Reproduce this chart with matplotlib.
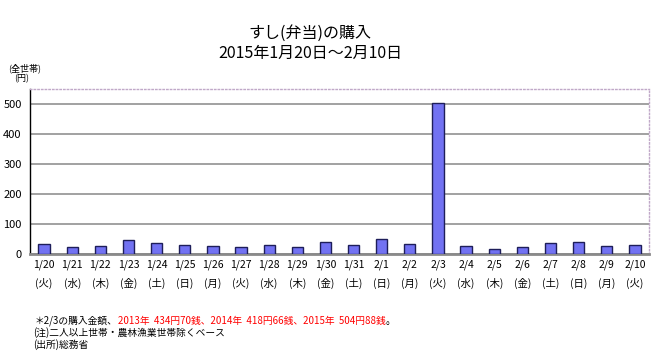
'''すし(弁当)の購入 bar chart.'''
import matplotlib
matplotlib.use('Agg')
import matplotlib.pyplot as plt

plt.rcParams['font.family'] = ['Noto Sans CJK JP', 'DejaVu Sans']

dates = ['1/20', '1/21', '1/22', '1/23', '1/24', '1/25', '1/26', '1/27', '1/28',
         '1/29', '1/30', '1/31', '2/1', '2/2', '2/3', '2/4', '2/5', '2/6', '2/7',
         '2/8', '2/9', '2/10']
weekdays = ['火', '水', '木', '金', '土', '日', '月', '火', '水', '木', '金',
            '土', '日', '月', '火', '水', '木', '金', '土', '日', '月', '火']
amounts = [32, 22, 27, 46, 36, 29, 27, 22, 29, 24, 39, 29, 49, 32, 505,
           27, 16, 22, 36, 39, 27, 31]
yticks = [0, 100, 200, 300, 400, 500]

fig = plt.figure(figsize=(6.64, 3.58), dpi=100)
ax = fig.add_axes([30 / 664, 1 - 254 / 358, 619 / 664, 165 / 358])

x = list(range(len(dates)))
ax.bar(x, amounts, width=0.4, color='#7272F2', edgecolor='#1E1E5A',
       linewidth=1.0, zorder=3)

ax.set_xlim(-0.5, len(dates) - 0.5)
ax.set_ylim(0, 550)
ax.set_yticks(yticks)
ax.set_yticklabels([str(v) for v in yticks], fontsize=8)
ax.set_xticks([])
ax.tick_params(axis='y', length=0, pad=6)
ax.yaxis.grid(True, color='#9A9A9A', linewidth=1.3, zorder=0)

ax.spines['left'].set_color('black')
ax.spines['left'].set_linewidth(1.0)
ax.spines['bottom'].set_color('#8A8A8A')
ax.spines['bottom'].set_linewidth(2.0)
for side in ['top', 'right']:
    ax.spines[side].set_color('#C0A8C8')
    ax.spines[side].set_linestyle(':')
    ax.spines[side].set_linewidth(1.0)

# date and weekday labels under each bar
for i, (d, w) in enumerate(zip(dates, weekdays)):
    ax.text(i, -37, d, ha='center', va='center', fontsize=7.5)
    ax.text(i, -97, '(' + w + ')', ha='center', va='center', fontsize=7.5)

fig.text(310 / 664, 1 - 33 / 358, 'すし(弁当)の購入', ha='center', va='center',
         fontsize=11.5)
fig.text(310 / 664, 1 - 53 / 358, '2015年1月20日～2月10日', ha='center',
         va='center', fontsize=11.5)
fig.text(25 / 664, 1 - 68 / 358, '(全世帯)', ha='center', va='center', fontsize=6.5)
fig.text(22 / 664, 1 - 79 / 358, '(円)', ha='center', va='center', fontsize=6.5)

# footnotes, the first one mixes black and red text
fig.canvas.draw()
renderer = fig.canvas.get_renderer()
note_y = 1 - 321 / 358
parts = [('＊2/3の購入金額、', 'black'),
         ('2013年  434円70銭、2014年  418円66銭、2015年  504円88銭', 'red'),
         ('。', 'black')]
x_px = 35
for txt, col in parts:
    t = fig.text(x_px / 664, note_y, txt, ha='left', va='center', fontsize=7,
                 color=col)
    x_px += t.get_window_extent(renderer).width
fig.text(33 / 664, 1 - 333 / 358, '(注)二人以上世帯・農林漁業世帯除くベース',
         ha='left', va='center', fontsize=7)
fig.text(33 / 664, 1 - 345 / 358, '(出所)総務省', ha='left', va='center',
         fontsize=7)

fig.savefig('out.png', dpi=100, facecolor='white')
